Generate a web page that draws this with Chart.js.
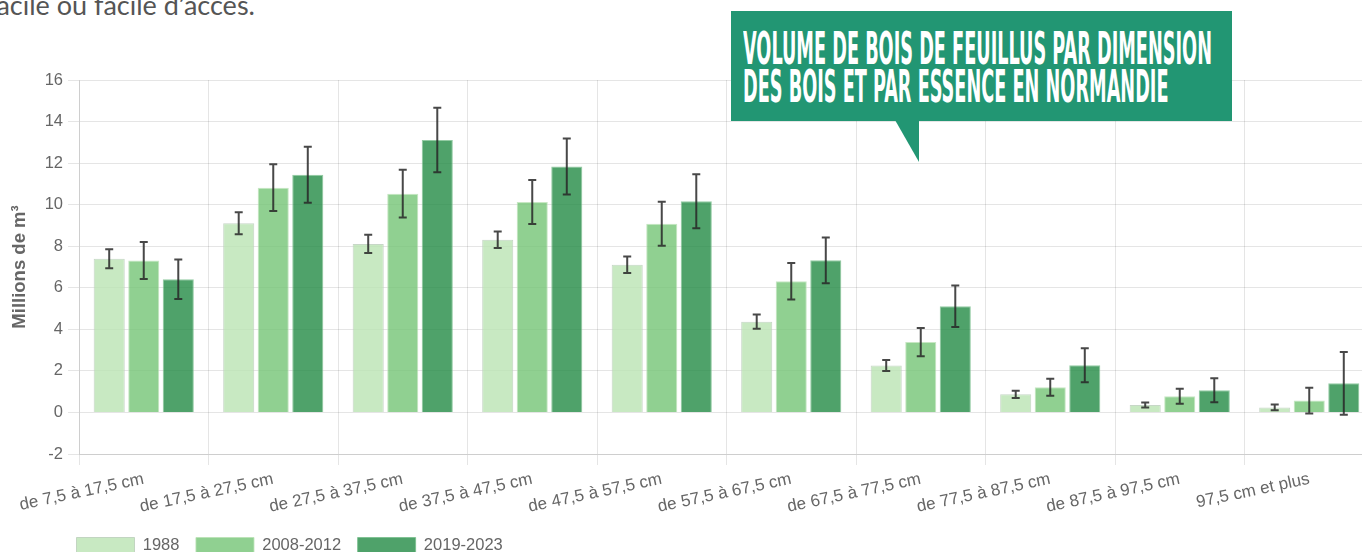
<!DOCTYPE html>
<html lang="fr">
<head>
<meta charset="utf-8">
<title>Volume de bois de feuillus par dimension</title>
<script src="https://cdn.jsdelivr.net/npm/chart.js@4.4.1/dist/chart.umd.min.js"></script>
<style>
  html, body { margin: 0; padding: 0; background: #fff; overflow: hidden; width: 1362px; height: 552px; }
  #intro { position: absolute; left: -8px; top: -7px; font-family: Lato, sans-serif; font-size: 27px; line-height: 24px; color: #555; white-space: nowrap; }
  #chartWrap { position: absolute; left: 0; top: 0; width: 1374px; height: 564px; }
  #callout { position: absolute; left: 731px; top: 11px; width: 501px; height: 110px; background: #229673; }
  #pointer { position: absolute; left: 895px; top: 120px; width: 24px; height: 42px; background: #229673; clip-path: polygon(0 0, 100% 0, 100% 100%); }
  .headline { position: absolute; left: 743px; color: #fff; font-family: 'Liberation Sans Narrow', 'DejaVu Sans Condensed', Roboto, sans-serif; font-weight: bold; font-size: 32px; line-height: 32px; white-space: nowrap; transform-origin: 0 0; }
</style>
</head>
<body>
<div id="intro"><span id="introCut">f</span>acile ou facile d’accès.</div>
<div id="chartWrap"><canvas id="volumeChart" width="1374" height="564"></canvas></div>
<div id="callout"></div>
<div id="pointer"></div>
<div class="headline" id="head1" style="top:27px">VOLUME DE BOIS DE FEUILLUS PAR DIMENSION</div>
<div class="headline" id="head2" style="top:65px">DES BOIS ET PAR ESSENCE EN NORMANDIE</div>

<script>
// Classes de diamètre
var categories = ['de 7,5 à 17,5 cm', 'de 17,5 à 27,5 cm', 'de 27,5 à 37,5 cm', 'de 37,5 à 47,5 cm',
    'de 47,5 à 57,5 cm', 'de 57,5 à 67,5 cm', 'de 67,5 à 77,5 cm', 'de 77,5 à 87,5 cm',
    'de 87,5 à 97,5 cm', '97,5 cm et plus'];
var periods = ['1988', '2008-2012', '2019-2023'];

// Volumes (millions de m3) et demi-intervalles de confiance
var vol1988 = [7.40, 9.11, 8.11, 8.31, 7.11, 4.37, 2.26, 0.87, 0.36, 0.24];
var err1988 = [0.46, 0.53, 0.44, 0.40, 0.40, 0.34, 0.27, 0.18, 0.12, 0.14];
var vol2008 = [7.31, 10.82, 10.53, 10.13, 9.08, 6.31, 3.39, 1.21, 0.78, 0.57];
var err2008 = [0.89, 1.12, 1.15, 1.06, 1.06, 0.88, 0.68, 0.41, 0.36, 0.62];
var vol2019 = [6.41, 11.44, 13.11, 11.84, 10.16, 7.32, 5.11, 2.27, 1.07, 1.40];
var err2019 = [0.95, 1.35, 1.55, 1.35, 1.30, 1.10, 1.00, 0.82, 0.58, 1.51];

// Axe des ordonnées
var yMin = -2;
var yMax = 16;
var yStep = 2;

// Draw error bars on top of each bar
var errorBars = {
    id: 'errorBars',
    afterDatasetsDraw: function(chart) {
        var ctx = chart.ctx;
        var yScale = chart.scales.y;
        ctx.save();
        ctx.strokeStyle = 'rgba(40, 40, 40, 0.85)';
        ctx.lineWidth = 2;
        chart.data.datasets.forEach(function(ds, i) {
            chart.getDatasetMeta(i).data.forEach(function(bar, j) {
                var top = yScale.getPixelForValue(ds.data[j] + ds.errors[j]);
                var bottom = yScale.getPixelForValue(ds.data[j] - ds.errors[j]);
                ctx.beginPath();
                ctx.moveTo(bar.x, top);
                ctx.lineTo(bar.x, bottom);
                ctx.moveTo(bar.x - 4, top);
                ctx.lineTo(bar.x + 4, top);
                ctx.moveTo(bar.x - 4, bottom);
                ctx.lineTo(bar.x + 4, bottom);
                ctx.stroke();
            });
        });
        ctx.restore();
    }
};

// Move the legend row to the right, under the plot
var legendShift = {
    id: 'legendShift',
    afterLayout: function(chart) {
        chart.legend.left += 60;
        chart.legend.right += 60;
    }
};

function loadChart() {
    Chart.defaults.font.family = "'Liberation Sans', Arial, sans-serif";
    var ctx = document.getElementById('volumeChart').getContext('2d');
    new Chart(ctx, {
        type: 'bar',
        data: {
            labels: categories,
            datasets: [{
                label: periods[0],
                data: vol1988,
                errors: err1988,
                backgroundColor: 'rgba(186, 228, 179, 0.8)',
                borderColor: 'rgba(185, 205, 185, 0.8)',
                borderWidth: 1
            }, {
                label: periods[1],
                data: vol2008,
                errors: err2008,
                backgroundColor: 'rgba(116, 196, 118, 0.8)',
                borderColor: 'rgba(185, 225, 180, 0.8)',
                borderWidth: 1
            }, {
                label: periods[2],
                data: vol2019,
                errors: err2019,
                backgroundColor: 'rgba(35, 139, 69, 0.8)',
                borderColor: 'rgba(120, 190, 140, 0.8)',
                borderWidth: 1
            }]
        },
        options: {
            responsive: false,
            animation: false,
            layout: { padding: { top: 80, left: 0, right: 0, bottom: 0 } },
            plugins: {
                legend: {
                    position: 'bottom',
                    align: 'start',
                    labels: { boxWidth: 58, boxHeight: 16.5, padding: 16.5, color: '#666', font: { size: 16.5 } }
                },
                tooltip: { enabled: false }
            },
            scales: {
                x: {
                    grid: { color: 'rgba(0,0,0,0.1)', tickLength: 11 },
                    ticks: { color: '#666', font: { size: 17 }, minRotation: 12, maxRotation: 12, padding: 4 },
                    afterFit: function(scale) { scale.height = 67; }
                },
                y: {
                    min: yMin,
                    max: yMax,
                    grid: { color: 'rgba(0,0,0,0.1)', tickLength: 11 },
                    ticks: { stepSize: yStep, color: '#666', font: { size: 16.5 }, padding: 5 },
                    title: {
                        display: true,
                        text: 'Millions de m³',
                        color: '#666',
                        font: { size: 18.5, weight: 'bold' },
                        padding: { top: 9, bottom: 0 }
                    },
                    afterFit: function(scale) { scale.width = 79; }
                }
            }
        },
        plugins: [errorBars, legendShift]
    });
}

// Squeeze the headline into the callout box
function fitHeadline() {
    var h1 = document.getElementById('head1');
    var h2 = document.getElementById('head2');
    var sx = 469 / h1.offsetWidth;
    var sy = 31.5 / (0.716 * 32);
    h1.style.transform = 'scale(' + sx + ',' + sy + ')';
    h2.style.transform = 'scale(' + sx + ',' + sy + ')';
}

// Hide the first letter of the cut paragraph line
function cutIntro() {
    var cut = document.getElementById('introCut');
    document.getElementById('intro').style.left = (-4 - cut.offsetWidth) + 'px';
}

window.onload = function() {
    loadChart();
    fitHeadline();
    cutIntro();
};
</script>
</body>
</html>
